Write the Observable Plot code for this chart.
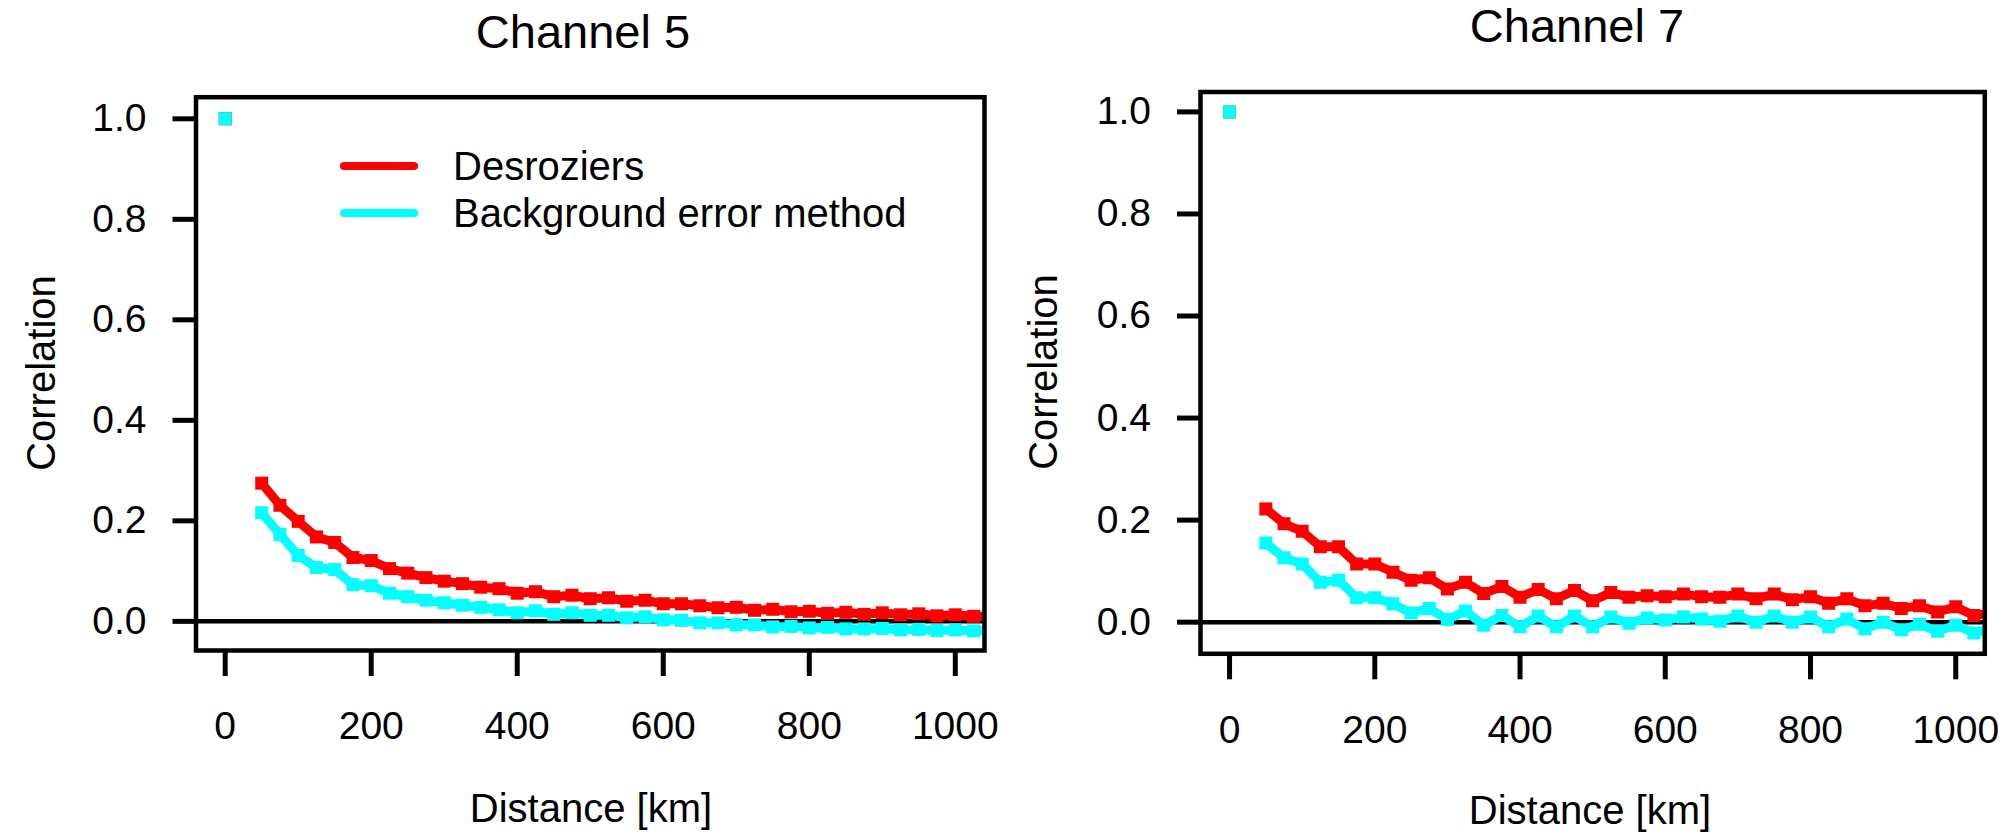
<!DOCTYPE html>
<html>
<head>
<meta charset="utf-8">
<script src="https://cdn.jsdelivr.net/npm/d3@7"></script>
<script src="https://cdn.jsdelivr.net/npm/@observablehq/plot@0.6"></script>
<style>
  html, body { margin: 0; padding: 0; background: white; }
  #wrap { position: relative; width: 2016px; height: 834px; overflow: hidden; background: white; }
  #wrap > svg.plot-panel { position: absolute; top: 0; max-width: none; }
  #overlay { position: absolute; left: 0; top: 0; pointer-events: none; }
  text { font-family: "Liberation Sans", Arial, Helvetica, sans-serif; }
</style>
</head>
<body>
<div id="wrap"></div>
<script>
// ---------------- data ----------------
const distances = [0, 25, 50, 75, 100, 125, 150, 175, 200, 225, 250, 275, 300, 325, 350, 375, 400, 425, 450, 475, 500,
  525, 550, 575, 600, 625, 650, 675, 700, 725, 750, 775, 800, 825, 850, 875, 900, 925, 950, 975, 1000, 1025, 1050];

const ch5Desroziers = [1.0, null, 0.275, 0.231, 0.199, 0.168, 0.157, 0.127, 0.121, 0.105, 0.096, 0.087, 0.080, 0.075, 0.068, 0.065, 0.056, 0.059, 0.049, 0.052, 0.045,
  0.047, 0.040, 0.042, 0.035, 0.035, 0.031, 0.027, 0.028, 0.022, 0.024, 0.019, 0.020, 0.016, 0.018, 0.014, 0.017, 0.013, 0.015, 0.011, 0.013, 0.010, 0.011];
const ch5Background = [1.0, null, 0.216, 0.173, 0.131, 0.107, 0.103, 0.073, 0.071, 0.056, 0.049, 0.042, 0.037, 0.032, 0.028, 0.023, 0.017, 0.021, 0.014, 0.017, 0.012,
  0.012, 0.007, 0.009, 0.003, 0.002, -0.003, -0.003, -0.007, -0.007, -0.011, -0.010, -0.013, -0.012, -0.015, -0.015, -0.014, -0.017, -0.016, -0.018, -0.017, -0.019, -0.018];

const ch7Desroziers = [1.0, null, 0.222, 0.193, 0.178, 0.148, 0.148, 0.114, 0.114, 0.098, 0.082, 0.087, 0.065, 0.078, 0.056, 0.070, 0.049, 0.064, 0.046, 0.062, 0.042,
  0.058, 0.049, 0.052, 0.050, 0.055, 0.050, 0.049, 0.055, 0.046, 0.055, 0.044, 0.050, 0.037, 0.046, 0.032, 0.037, 0.027, 0.032, 0.020, 0.030, 0.013, 0.018];
const ch7Background = [1.0, null, 0.155, 0.126, 0.114, 0.078, 0.082, 0.048, 0.048, 0.036, 0.018, 0.027, 0.005, 0.022, -0.006, 0.013, -0.009, 0.012, -0.009, 0.012, -0.009,
  0.010, -0.002, 0.008, 0.004, 0.010, 0.006, 0.002, 0.012, 0.000, 0.012, 0.000, 0.010, -0.009, 0.006, -0.013, 0.000, -0.015, -0.004, -0.018, -0.006, -0.021, -0.012];

const xTicks = [0, 200, 400, 600, 800, 1000];
const yTicks = [0, 0.2, 0.4, 0.6, 0.8, 1.0];
const seriesNames = ["Desroziers", "Background error method"];
const seriesColors = ["#ff0000", "#00ffff"];
const panelTitles = ["Channel 5", "Channel 7"];
const xLabel = "Distance [km]";
const yLabel = "Correlation";

// ---------------- drawing ----------------
const FONT = '"Liberation Sans", Arial, Helvetica, sans-serif';
const wrap = document.getElementById("wrap");

function panel(red, cyan, cfg) {
  const rows = distances.map((d, i) => ({d, red: red[i], cyan: cyan[i]}));
  const sqR = 13 / Math.sqrt(Math.PI);
  const svg = Plot.plot({
    width: cfg.width,
    height: 834,
    marginLeft: cfg.left,
    marginRight: cfg.width - cfg.right,
    marginTop: cfg.top,
    marginBottom: 834 - cfg.bottom,
    style: {background: "transparent", fontFamily: FONT, fontSize: "39px", color: "black", overflow: "visible"},
    x: {domain: [-40, 1040], ticks: xTicks, tickSize: 26, tickPadding: 35, tickFormat: d => String(d), label: null},
    y: {domain: cfg.yDomain, ticks: yTicks, tickSize: 23, tickPadding: 26.5, tickFormat: d3.format(".1f"), label: null},
    marks: [
      Plot.ruleY([0], {stroke: "black", strokeWidth: 4.5}),
      Plot.line(rows, {x: "d", y: "red", stroke: seriesColors[0], strokeWidth: 9, strokeLinejoin: "round", strokeLinecap: "round", clip: true}),
      Plot.dot(rows, {x: "d", y: "red", symbol: "square", r: sqR, fill: seriesColors[0], stroke: "none", clip: true}),
      Plot.line(rows, {x: "d", y: "cyan", stroke: seriesColors[1], strokeWidth: 9, strokeLinejoin: "round", strokeLinecap: "round", clip: true}),
      Plot.dot(rows, {x: "d", y: "cyan", symbol: "square", r: sqR, fill: seriesColors[1], stroke: "none", clip: true}),
      Plot.frame({stroke: "black", strokeWidth: 4.5})
    ]
  });
  svg.classList.add("plot-panel");
  svg.style.left = cfg.offset + "px";
  // thicker tick marks and fixed font size
  svg.querySelectorAll('[aria-label^="x-axis"] line, [aria-label^="x-axis"] path, [aria-label^="y-axis"] line, [aria-label^="y-axis"] path')
    .forEach(el => { el.setAttribute("stroke-width", "5"); el.style.strokeWidth = "5px"; el.setAttribute("stroke", "black"); });
  svg.querySelectorAll('[aria-label^="x-axis"], [aria-label^="y-axis"]')
    .forEach(el => { if (el.tagName.toLowerCase() === "g") { el.setAttribute("stroke-width", "5"); } });
  svg.querySelectorAll('[aria-label^="x-axis"] text, [aria-label^="y-axis"] text')
    .forEach(el => { el.style.fontSize = "39px"; el.style.fontFamily = FONT; el.setAttribute("fill", "black"); el.setAttribute("stroke", "none"); });
  wrap.appendChild(svg);
}

panel(ch5Desroziers, ch5Background, {offset: 0, width: 1000, left: 195.5, right: 984, top: 96.7, bottom: 650, yDomain: [-0.058, 1.043]});
panel(ch7Desroziers, ch7Background, {offset: 1000, width: 1016, left: 200, right: 984.3, top: 91.5, bottom: 653.3, yDomain: [-0.062, 1.039]});

// ---------------- titles, axis labels, legend ----------------
const NS = "http://www.w3.org/2000/svg";
const ov = document.createElementNS(NS, "svg");
ov.setAttribute("id", "overlay");
ov.setAttribute("width", 2016);
ov.setAttribute("height", 834);
wrap.appendChild(ov);

function addText(str, x, y, size, anchor, rotate) {
  const t = document.createElementNS(NS, "text");
  t.textContent = str;
  t.setAttribute("x", x);
  t.setAttribute("y", y);
  t.setAttribute("font-size", size);
  t.setAttribute("text-anchor", anchor || "middle");
  t.setAttribute("fill", "black");
  t.style.fontFamily = FONT;
  if (rotate) t.setAttribute("transform", `rotate(${rotate} ${x} ${y})`);
  ov.appendChild(t);
}
function addLine(x1, x2, y, color) {
  const l = document.createElementNS(NS, "line");
  l.setAttribute("x1", x1); l.setAttribute("x2", x2);
  l.setAttribute("y1", y); l.setAttribute("y2", y);
  l.setAttribute("stroke", color); l.setAttribute("stroke-width", 8);
  l.setAttribute("stroke-linecap", "round");
  ov.appendChild(l);
}

addText(panelTitles[0], 583, 48, 47);
addText(panelTitles[1], 1577, 42, 47);
addText(xLabel, 591, 822, 40);
addText(xLabel, 1590, 824, 40);
addText(yLabel, 55, 373, 40, "middle", -90);
addText(yLabel, 1057, 372, 40, "middle", -90);

// legend (left panel)
addLine(344, 414, 166, seriesColors[0]);
addLine(344, 414, 213, seriesColors[1]);
addText(seriesNames[0], 453, 180, 40, "start");
addText(seriesNames[1], 453, 227, 40, "start");
</script>
</body>
</html>
